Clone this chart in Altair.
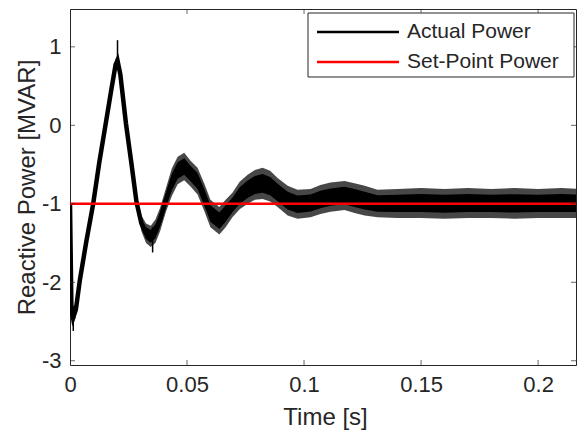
import altair as alt
import pandas as pd

# ---- data ----
# time [s] and the outer envelope (lower / upper) of the rippling "Actual Power" trace [MVAR]
T = [0.0000, 0.0006, 0.0013, 0.0025, 0.0042, 0.0070, 0.0099, 0.0125, 0.0150, 0.0175,
     0.0195, 0.0203, 0.0215, 0.0239, 0.0262, 0.0284, 0.0305, 0.0325, 0.0345, 0.0365,
     0.0385, 0.0410, 0.0435, 0.0460, 0.0488, 0.0515, 0.0545, 0.0575, 0.0600, 0.0638,
     0.0665, 0.0694, 0.0725, 0.0759, 0.0790, 0.0823, 0.0855, 0.0887, 0.0930, 0.0972,
     0.1028, 0.1070, 0.1113, 0.1173, 0.1220, 0.1259, 0.1314, 0.1400, 0.1500, 0.1600,
     0.1700, 0.1800, 0.1900, 0.2000, 0.2100, 0.2188]
LOWER = [-1.05, -2.45, -2.55, -2.45, -2.05, -1.55, -1.05, -0.55, -0.10, 0.35,
         0.70, 0.75, 0.55, -0.05, -0.55, -1.05, -1.35, -1.50, -1.55, -1.50,
         -1.35, -1.10, -0.90, -0.75, -0.70, -0.78, -0.88, -1.10, -1.30, -1.39,
         -1.30, -1.17, -1.07, -1.00, -0.95, -0.94, -0.97, -1.04, -1.15, -1.19,
         -1.17, -1.13, -1.10, -1.08, -1.12, -1.15, -1.17, -1.18, -1.18, -1.19,
         -1.18, -1.18, -1.19, -1.18, -1.18, -1.18]
UPPER = [-0.95, -2.20, -2.35, -2.25, -1.90, -1.40, -0.95, -0.40, 0.05, 0.50,
         0.85, 0.90, 0.75, 0.10, -0.40, -0.90, -1.15, -1.25, -1.28, -1.20,
         -1.05, -0.80, -0.55, -0.40, -0.35, -0.45, -0.54, -0.75, -0.95, -1.04,
         -0.95, -0.86, -0.72, -0.63, -0.57, -0.54, -0.58, -0.67, -0.77, -0.82,
         -0.81, -0.76, -0.73, -0.71, -0.74, -0.77, -0.82, -0.81, -0.80, -0.81,
         -0.80, -0.81, -0.80, -0.81, -0.80, -0.81]
# thin single-sample spikes
SPIKE_T = [0.0014, 0.0203, 0.0353]
SPIKE_LO = [-2.62, 0.80, -1.62]
SPIKE_HI = [-2.30, 1.085, -1.30]
SETPOINT = [-1.0]

X_TICKS = [0, 0.05, 0.1, 0.15, 0.2]
Y_TICKS = [-3, -2, -1, 0, 1]
LEGEND_LABELS = ["Actual Power", "Set-Point Power"]
LEGEND_COLORS = ["#000000", "#ff0000"]

# ---- layout ----
W, H = 506, 356
FONT = "Liberation Sans"
INK = "#262626"

df = pd.DataFrame({"t": T, "lo": LOWER, "hi": UPPER})
df["mid"] = (df["lo"] + df["hi"]) / 2
wband = df["hi"] - df["lo"]
df["clo"] = df["lo"] + 0.2 * wband
df["chi"] = df["hi"] - 0.2 * wband

spikes = pd.DataFrame({"t": SPIKE_T, "lo": SPIKE_LO, "hi": SPIKE_HI})
sp = pd.DataFrame({"y": SETPOINT})

xscale = alt.Scale(domain=[0, 0.2162], nice=False, zero=False)
yscale = alt.Scale(domain=[-3.054, 1.482], nice=False, zero=False)

xaxis = alt.Axis(values=X_TICKS, labelExpr="'' + datum.value", title="Time [s]",
                 domain=False, ticks=False, tickSize=0, grid=False, labelFlush=False,
                 labelFont=FONT, labelFontSize=22, labelColor=INK, labelPadding=9,
                 titleFont=FONT, titleFontSize=24, titleFontWeight="normal", titleColor=INK,
                 titleBaseline="alphabetic", titleX=255, titleY=59)
yaxis = alt.Axis(values=Y_TICKS, labelExpr="'' + datum.value", title="Reactive Power [MVAR]",
                 domain=False, ticks=False, tickSize=0, grid=False,
                 labelFont=FONT, labelFontSize=22, labelColor=INK, labelPadding=9,
                 titleFont=FONT, titleFontSize=24, titleFontWeight="normal", titleColor=INK,
                 titleBaseline="alphabetic", titleAngle=270, titleX=-36, titleY=H / 2)


def X(field):
    return alt.X(f"{field}:Q", scale=xscale, axis=xaxis)


def Y(field):
    return alt.Y(f"{field}:Q", scale=yscale, axis=yaxis)


base = alt.Chart(df)
outer = base.mark_area(color="#000000", opacity=0.72, clip=True).encode(x=X("t"), y=Y("lo"), y2="hi")
core = base.mark_area(color="#000000", clip=True).encode(x=X("t"), y=Y("clo"), y2="chi")
center = base.mark_line(color="#000000", strokeWidth=4.5, clip=True).encode(x=X("t"), y=Y("mid"))
spike = alt.Chart(spikes).mark_rule(color="#000000", strokeWidth=1.5).encode(
    x=X("t"), y=Y("lo"), y2="hi")
setp = alt.Chart(sp).mark_rule(color="#ff0000", strokeWidth=2.5).encode(y=Y("y"))

xt = pd.DataFrame({"t": X_TICKS})
yt = pd.DataFrame({"y": Y_TICKS})
tick_kw = dict(color=INK, size=10, thickness=1, clip=True)
xt_bot = alt.Chart(xt).mark_tick(**tick_kw).encode(x=X("t"), y=alt.value(H))
xt_top = alt.Chart(xt).mark_tick(**tick_kw).encode(x=X("t"), y=alt.value(0))
yt_left = alt.Chart(yt).mark_tick(**tick_kw).encode(y=Y("y"), x=alt.value(0))
yt_right = alt.Chart(yt).mark_tick(**tick_kw).encode(y=Y("y"), x=alt.value(W))

# legend box (top right)
leg_box = alt.Chart(pd.DataFrame({"k": [0]})).mark_rect(
    fill="white", stroke=INK, strokeWidth=1).encode(
    x=alt.value(238), x2=alt.value(504), y=alt.value(4), y2=alt.value(68))
legend_layers = [leg_box]
for i, (lab, col) in enumerate(zip(LEGEND_LABELS, LEGEND_COLORS)):
    row = pd.DataFrame({"label": [lab]})
    yy = 23 + 30 * i
    legend_layers.append(
        alt.Chart(row).mark_rule(color=col, strokeWidth=2.5).encode(
            x=alt.value(247), x2=alt.value(329), y=alt.value(yy)))
    legend_layers.append(
        alt.Chart(row).mark_text(align="left", baseline="middle", font=FONT,
                                 fontSize=21, color=INK).encode(
            x=alt.value(337), y=alt.value(yy), text="label:N"))

chart = alt.layer(
    outer, core, center, spike, setp, xt_bot, xt_top, yt_left, yt_right, *legend_layers
).properties(
    width=W, height=H,
    autosize=alt.AutoSizeParams(type="none"),
    padding={"left": 62, "top": 1, "right": 1, "bottom": 65},
    background="white",
).configure_view(stroke=INK, strokeWidth=1)

chart.save("out.html", embed_options={"renderer": "svg", "actions": False})
